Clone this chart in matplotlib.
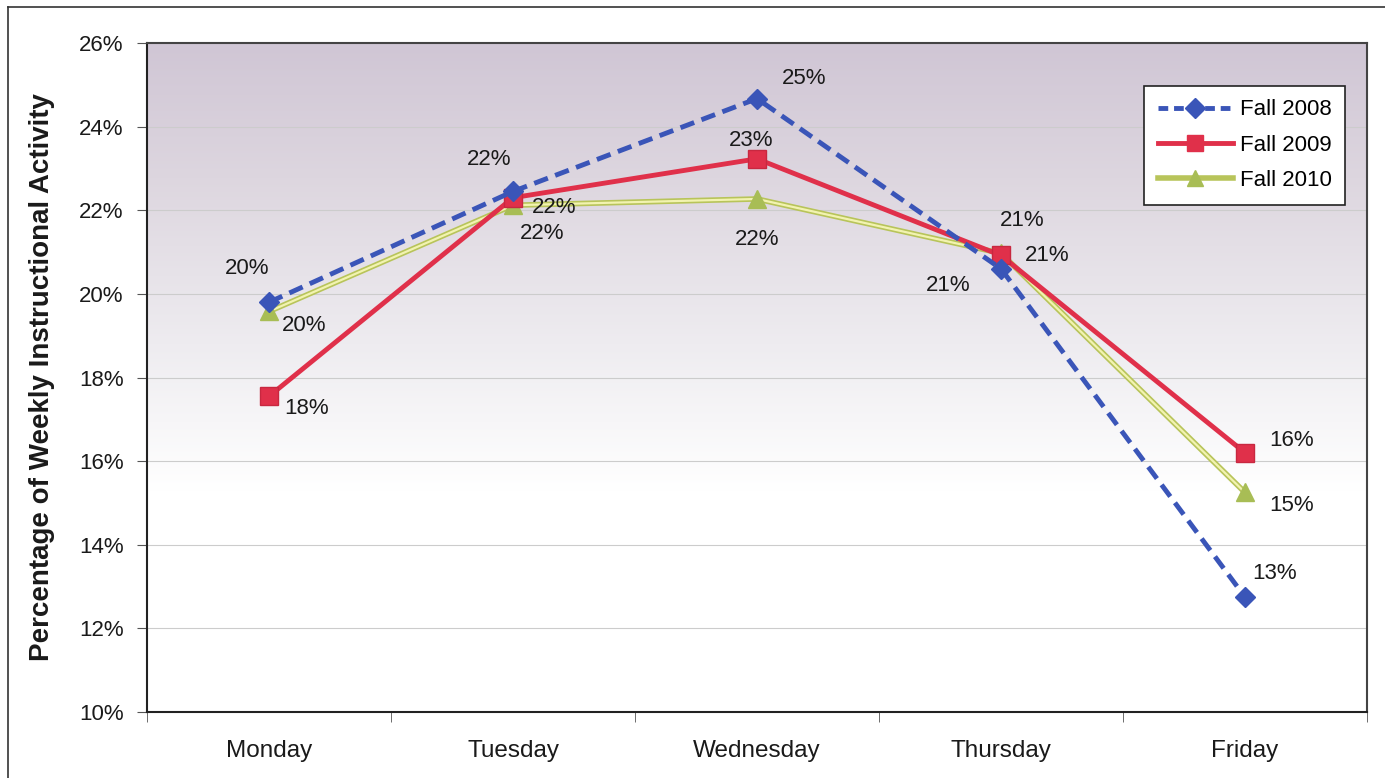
import matplotlib
matplotlib.use("Agg")
import matplotlib.pyplot as plt
import numpy as np
from matplotlib.colors import LinearSegmentedColormap
from matplotlib.lines import Line2D

days = ["Monday", "Tuesday", "Wednesday", "Thursday", "Friday"]
fall_2008 = [19.8, 22.45, 24.67, 20.6, 12.75]
fall_2009 = [17.55, 22.3, 23.23, 20.92, 16.2]
fall_2010 = [19.58, 22.12, 22.27, 20.97, 15.25]
labels_2008 = ["20%", "22%", "25%", "21%", "13%"]
labels_2009 = ["18%", "22%", "23%", "21%", "16%"]
labels_2010 = ["20%", "22%", "22%", "21%", "15%"]
y_ticks = [10, 12, 14, 16, 18, 20, 22, 24, 26]

plt.rcParams['font.family'] = ['Liberation Sans', 'DejaVu Sans']

fig = plt.figure(figsize=(13.85, 7.78), dpi=100)
ax = fig.add_axes([147/1385, 1-712/778, 1220/1385, 669/778])

x = np.arange(len(days))
ax.set_xlim(-0.5, len(days) - 0.5)
ax.set_ylim(10, 26)

# gradient background
cmap = LinearSegmentedColormap.from_list(
    "bg", [(0.0, "#ffffff"), (0.33, "#ffffff"), (0.55, "#eeecf0"),
           (0.8, "#ddd6df"), (1.0, "#d0c6d5")])
grad = np.linspace(0, 1, 256).reshape(-1, 1)
ax.imshow(grad, aspect="auto", cmap=cmap, origin="lower",
          extent=[-0.5, len(days) - 0.5, 10, 26], zorder=0)

for t in y_ticks[1:-1]:
    ax.axhline(t, color="#cccccc", lw=0.8, zorder=1)

ax.plot(x, fall_2008, color="#3a55b8", lw=3.5, ls=(0, (3, 1.6)), marker="D",
        ms=10, mfc="#3a55b8", mec="#3a55b8", zorder=4, label="Fall 2008")
ax.plot(x, fall_2009, color="#e0304a", lw=3.5, marker="s", ms=13,
        mfc="#e0304a", mec="#c82840", zorder=3, label="Fall 2009")
ax.plot(x, fall_2010, color="#b8c45a", lw=4, zorder=2)
ax.plot(x, fall_2010, color="#f2f3b0", lw=1.6, zorder=2, marker="^", ms=13,
        mfc="#a8bd55", mec="#a8bd55")

off_2008 = [(-22, 34), (-24, 32), (47, 20), (-53, -17), (30, 24)]
off_2009 = [(38, -12), (41, -10), (-6, 18), (46, 0), (47, 12)]
off_2010 = [(35, -14), (29, -28), (0, -41), (21, 33), (47, -13)]
fs = 16
for vals, labs, offs in [(fall_2008, labels_2008, off_2008),
                         (fall_2009, labels_2009, off_2009),
                         (fall_2010, labels_2010, off_2010)]:
    for xi, v, lab, (dx, dy) in zip(x, vals, labs, offs):
        ax.annotate(lab, (xi, v), xytext=(dx * 0.72, dy * 0.72),
                    textcoords="offset points", ha="center", va="center",
                    fontsize=fs, color="#1a1a1a", zorder=6)

ax.set_yticks(y_ticks)
ax.set_yticklabels([f"{t}%" for t in y_ticks], fontsize=fs, color="#1a1a1a")
ax.set_xticks(x)
ax.set_xticklabels(days, fontsize=17.5, color="#1a1a1a")
ax.tick_params(axis="x", length=0, pad=20)
ax.set_xticks(np.arange(-0.5, len(days)), minor=True)
ax.tick_params(axis="x", which="minor", length=7, direction="out", color="#555555")
ax.tick_params(axis="y", length=7, direction="out", color="#555555", pad=10)

for s in ["left", "bottom"]:
    ax.spines[s].set_color("#222222")
    ax.spines[s].set_linewidth(1.5)
for s in ["top", "right"]:
    ax.spines[s].set_color("#444444")
    ax.spines[s].set_linewidth(1.5)

ax.set_ylabel("Percentage of Weekly Instructional Activity", fontsize=20,
              fontweight="bold", color="#1a1a1a", labelpad=17)

handles = [
    Line2D([], [], color="#3a55b8", lw=3.5, ls=(0, (2, 1.2)), marker="D", ms=10),
    Line2D([], [], color="#e0304a", lw=3.5, marker="s", ms=11),
    Line2D([], [], color="#b8c45a", lw=4, marker="^", ms=11, mfc="#a8bd55", mec="#a8bd55"),
]
leg = ax.legend(handles, ["Fall 2008", "Fall 2009", "Fall 2010"],
                loc="upper right", bbox_to_anchor=((1345 - 147) / 1220, 1 - 43 / 669),
                fontsize=fs, frameon=True, fancybox=False, framealpha=1,
                edgecolor="#222222", handlelength=3.4, handletextpad=0.3,
                borderpad=0.6, borderaxespad=0, labelspacing=0.65)
leg.get_frame().set_linewidth(1.2)
leg.set_zorder(7)

# outer chart frame (partially visible)
fig.add_artist(Line2D([8/1385, 8/1385], [0, 1 - 7/778], color="#333333", lw=1.2))
fig.add_artist(Line2D([8/1385, 1], [1 - 7/778, 1 - 7/778], color="#333333", lw=1.2))

fig.savefig("out.png", dpi=100)
